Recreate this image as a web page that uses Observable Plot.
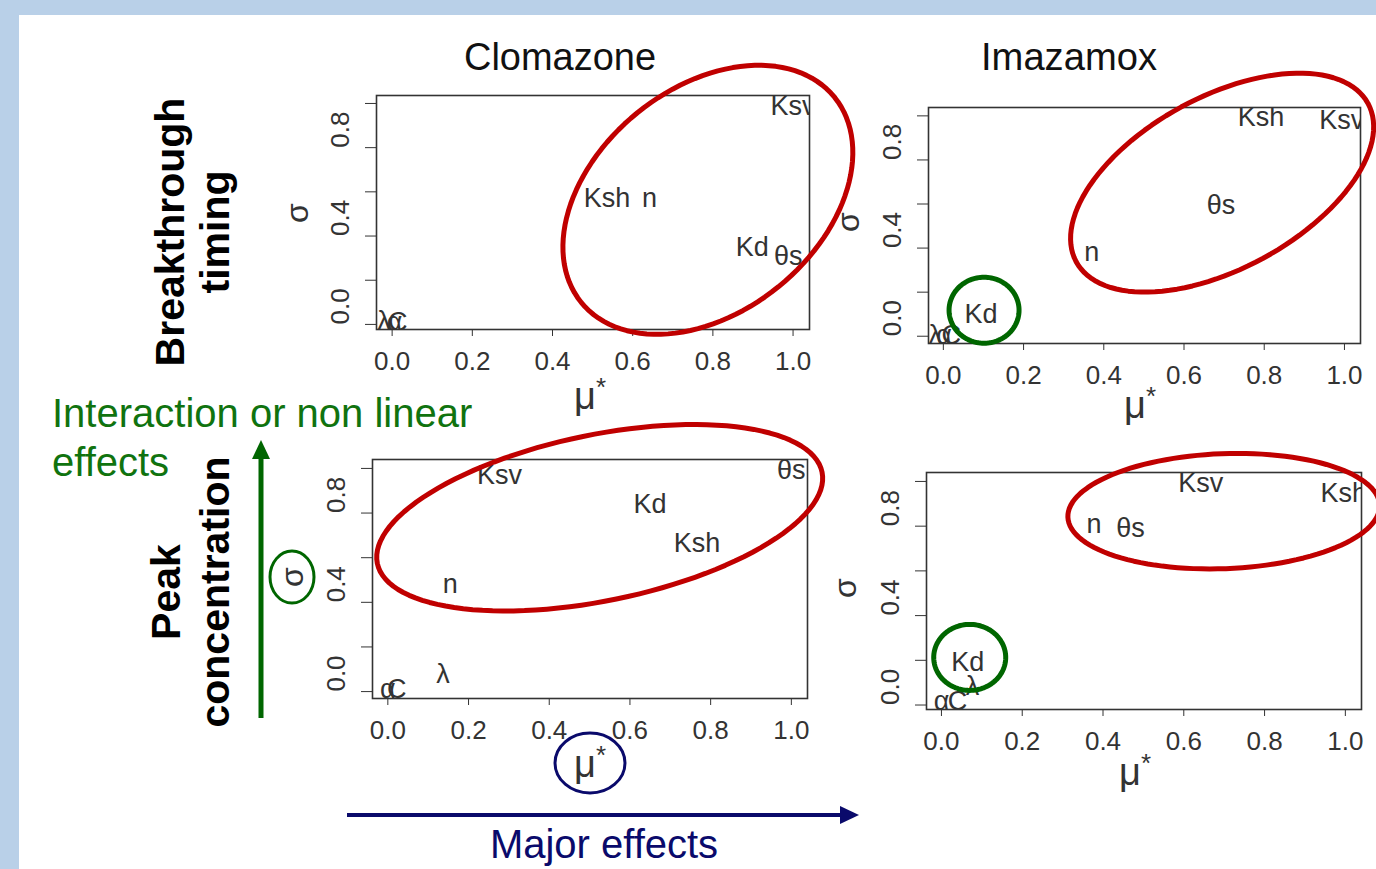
<!DOCTYPE html>
<html><head><meta charset="utf-8">
<script src="https://cdn.jsdelivr.net/npm/d3@7"></script>
<script src="https://cdn.jsdelivr.net/npm/@observablehq/plot@0.6"></script>
<style>
html,body{margin:0;padding:0;background:#b9d0e8;}
#page{position:relative;width:1376px;height:869px;overflow:hidden;background:#b9d0e8;font-family:"Liberation Sans",Arial,sans-serif;}
#sheet{position:absolute;left:19px;top:15px;width:1357px;height:854px;background:#fff;}
#page svg{position:absolute;}
</style></head><body><div id="page"><div id="sheet"></div></div>
<script>
// ---------- data ----------
const columnTitles = ["Clomazone", "Imazamox"];
const rowTitles = [["Breakthrough", "timing"], ["Peak", "concentration"]];

const clomazoneBreakthroughParams = ["Ksv", "Ksh", "n", "Kd", "θs", "λ", "α", "C"];
const clomazoneBreakthroughMu     = [1.0, 0.536, 0.642, 0.898, 0.988, -0.02, 0.006, 0.014];
const clomazoneBreakthroughSigma  = [0.988, 0.569, 0.569, 0.349, 0.308, 0.012, 0.01, 0.01];

const imazamoxBreakthroughParams = ["Ksh", "Ksv", "θs", "n", "Kd", "λ", "α", "C"];
const imazamoxBreakthroughMu     = [0.792, 0.993, 0.692, 0.37, 0.094, -0.02, 0.002, 0.02];
const imazamoxBreakthroughSigma  = [0.992, 0.98, 0.593, 0.379, 0.1, 0.005, 0.005, 0.005];

const clomazonePeakParams = ["Ksv", "θs", "Kd", "Ksh", "n", "λ", "α", "C"];
const clomazonePeakMu     = [0.277, 1.0, 0.65, 0.766, 0.155, 0.137, 0.0, 0.022];
const clomazonePeakSigma  = [0.97, 0.99, 0.84, 0.665, 0.48, 0.078, 0.012, 0.012];

const imazamoxPeakParams = ["Ksv", "Ksh", "n", "θs", "Kd", "λ", "α", "C"];
const imazamoxPeakMu     = [0.642, 0.996, 0.378, 0.468, 0.065, 0.077, 0.0, 0.04];
const imazamoxPeakSigma  = [0.991, 0.946, 0.81, 0.788, 0.193, 0.082, 0.015, 0.015];

const xTicks = [0, 0.2, 0.4, 0.6, 0.8, 1.0];
const yTicks = [0, 0.2, 0.4, 0.6, 0.8, 1.0];
const yTickLabels = [0, 0.4, 0.8];

const xTitle = "μ";
const yTitle = "σ";
const greenNote = ["Interaction or non linear", "effects"];
const navyNote = "Major effects";

// ---------- layout & style ----------
const RED = "#c00000", GREEN = "#006600", GREEN_TXT = "#10730f", NAVY = "#0a0a6b", INK = "#333";
const FONT = '"Liberation Sans", Arial, Helvetica, sans-serif';

const rows = (params, mu, sigma) => params.map((p, i) => ({param: p, mu: mu[i], sigma: sigma[i]}));

const panels = [
  {data: rows(clomazoneBreakthroughParams, clomazoneBreakthroughMu, clomazoneBreakthroughSigma),
   left: 376, top: 95, w: 433, h: 234, xd: [-0.039, 1.041], yd: [-0.023, 1.036],
   ellipses: [{cx: 0.7875, cy: 0.564, a: 163, b: 112, rot: 39, color: RED, sw: 5}]},
  {data: rows(imazamoxBreakthroughParams, imazamoxBreakthroughMu, imazamoxBreakthroughSigma),
   left: 928, top: 107, w: 432, h: 236, xd: [-0.037, 1.040], yd: [-0.033, 1.038],
   ellipses: [{cx: 0.695, cy: 0.697, a: 166, b: 86, rot: 28.5, color: RED, sw: 5},
              {cx: 0.1015, cy: 0.118, a: 35, b: 33, rot: 0, color: GREEN, sw: 5}]},
  {data: rows(clomazonePeakParams, clomazonePeakMu, clomazonePeakSigma),
   left: 372, top: 459, w: 435, h: 239, xd: [-0.038, 1.040], yd: [-0.031, 1.040],
   ellipses: [{cx: 0.525, cy: 0.779, a: 227, b: 83, rot: 11.6, color: RED, sw: 5}]},
  {data: rows(imazamoxPeakParams, imazamoxPeakMu, imazamoxPeakSigma),
   left: 926, top: 472, w: 435, h: 237, xd: [-0.037, 1.040], yd: [-0.020, 1.040],
   ellipses: [{cx: 0.699, cy: 0.867, a: 156, b: 57.5, rot: 2.2, color: RED, sw: 5},
              {cx: 0.070, cy: 0.213, a: 36, b: 33, rot: 0, color: GREEN, sw: 5}]}
];

function ellipsePoints(e, kx, ky) {
  const r = e.rot * Math.PI / 180;
  return d3.range(0, 361, 3).map(deg => {
    const t = deg * Math.PI / 180;
    const px = e.a * Math.cos(t) * Math.cos(r) - e.b * Math.sin(t) * Math.sin(r);
    const py = e.a * Math.cos(t) * Math.sin(r) + e.b * Math.sin(t) * Math.cos(r);
    return {x: e.cx + px / kx, y: e.cy + py / ky};
  });
}

const page = document.getElementById("page");
const ML = 110, MR = 90, MT = 50, MB = 90;

for (const p of panels) {
  const kx = p.w / (p.xd[1] - p.xd[0]);
  const ky = p.h / (p.yd[1] - p.yd[0]);
  const plot = Plot.plot({
    width: ML + p.w + MR, height: MT + p.h + MB,
    marginLeft: ML, marginRight: MR, marginTop: MT, marginBottom: MB,
    style: {background: "transparent", overflow: "visible", fontFamily: FONT, fontSize: "26px", color: INK},
    x: {domain: p.xd, ticks: xTicks, tickFormat: d3.format(".1f"), tickSize: 7, tickPadding: 15, label: null},
    y: {domain: p.yd, ticks: yTicks, tickFormat: () => "", tickSize: 11, label: null},
    marks: [
      Plot.frame({stroke: INK, strokeWidth: 1.6}),
      Plot.text(yTickLabels, {frameAnchor: "left", y: d => d, text: d => d3.format(".1f")(d),
        rotate: -90, dx: -36, fontSize: 26, fill: INK}),
      Plot.text(p.data, {x: "mu", y: "sigma", text: "param", fontSize: 27, fill: INK, clip: true}),
      ...p.ellipses.map(e => Plot.line(ellipsePoints(e, kx, ky),
        {x: "x", y: "y", stroke: e.color, strokeWidth: e.sw, curve: "linear"}))
    ]
  });
  plot.style.position = "absolute";
  plot.style.left = (p.left - ML) + "px";
  plot.style.top = (p.top - MT) + "px";
  plot.style.maxWidth = "none";
  page.appendChild(plot);
}

// ---------- slide annotations ----------
const svg = d3.select(page).append("svg")
  .attr("width", 1376).attr("height", 869)
  .style("left", "0px").style("top", "0px").style("overflow", "visible")
  .attr("font-family", FONT);

// column titles
[[560, columnTitles[0], 192], [1069, columnTitles[1], 176]].forEach(([x, t, L]) => {
  svg.append("text").attr("x", x).attr("y", 70).attr("text-anchor", "middle")
    .attr("font-size", 38).attr("fill", "#111").attr("textLength", L)
    .attr("lengthAdjust", "spacingAndGlyphs").text(t);
});

// row titles (rotated, bold)
function rowTitle(lines, cy, baselines) {
  lines.forEach((t, i) => {
    svg.append("text").attr("transform", `translate(${baselines[i]},${cy}) rotate(-90)`)
      .attr("text-anchor", "middle").attr("font-size", 41).attr("font-weight", "bold")
      .attr("fill", "#000").text(t);
  });
}
rowTitle(rowTitles[0], 232, [184, 229]);
rowTitle(rowTitles[1], 592, [180, 229]);

// axis titles
const sigmaPos = [[297, 213], [848, 222], [292, 577], [845, 588]];
sigmaPos.forEach(([x, y]) => {
  svg.append("text").attr("transform", `translate(${x},${y}) rotate(-90)`)
    .attr("text-anchor", "middle").attr("dy", "0.35em").attr("font-size", 32)
    .attr("fill", INK).text(yTitle);
});
const muPos = [[590, 396], [1140, 405], [590, 764], [1135, 772]];
muPos.forEach(([x, y]) => {
  const t = svg.append("text").attr("x", x).attr("y", y).attr("text-anchor", "middle")
    .attr("dy", "0.35em").attr("font-size", 38).attr("fill", INK);
  t.append("tspan").text(xTitle);
  t.append("tspan").attr("dy", -13).attr("font-size", 26).text("*");
});

// green arrow & note
svg.append("line").attr("x1", 261).attr("y1", 718).attr("x2", 261).attr("y2", 456)
  .attr("stroke", GREEN).attr("stroke-width", 5);
svg.append("path").attr("d", "M261,440 L270,459 L252,459 Z").attr("fill", GREEN);
greenNote.forEach((t, i) => {
  svg.append("text").attr("x", 52).attr("y", 427 + i * 49).attr("font-size", 40)
    .attr("fill", GREEN_TXT).text(t);
});

// navy arrow & note
svg.append("line").attr("x1", 347).attr("y1", 815).attr("x2", 842).attr("y2", 815)
  .attr("stroke", NAVY).attr("stroke-width", 4);
svg.append("path").attr("d", "M859,815 L840,806 L840,824 Z").attr("fill", NAVY);
svg.append("text").attr("x", 604).attr("y", 858).attr("text-anchor", "middle")
  .attr("font-size", 40).attr("fill", NAVY).text(navyNote);

// highlight circles around axis titles
svg.append("ellipse").attr("cx", 292).attr("cy", 577).attr("rx", 22).attr("ry", 26)
  .attr("fill", "none").attr("stroke", GREEN).attr("stroke-width", 3);
svg.append("ellipse").attr("cx", 590).attr("cy", 763).attr("rx", 35).attr("ry", 30)
  .attr("fill", "none").attr("stroke", NAVY).attr("stroke-width", 3);
</script></body></html>
